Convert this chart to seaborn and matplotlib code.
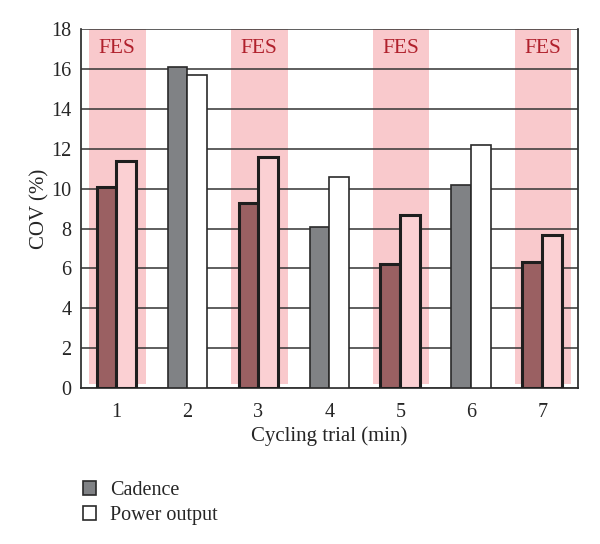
import pandas as pd
import matplotlib.pyplot as plt
import seaborn as sns

trials = ['1', '2', '3', '4', '5', '6', '7']
cadence = [10.1, 16.1, 9.3, 8.1, 6.2, 10.2, 6.3]
power = [11.4, 15.7, 11.6, 10.6, 8.7, 12.2, 7.7]
fes_trials = ['1', '3', '5', '7']

df = pd.DataFrame({
    'trial': trials * 2,
    'serie': ['Cadence'] * 7 + ['Power output'] * 7,
    'cov': cadence + power,
})

sns.set_style('white')
plt.rcParams['font.family'] = ['Liberation Serif', 'DejaVu Serif']

fig = plt.figure(figsize=(6, 5.44), dpi=100)
ax = fig.add_axes([0.135, 0.287, 0.828, 0.659])

# bandas FES atras de tudo
for t in fes_trials:
    i = trials.index(t)
    ax.axvspan(i - 0.39, i + 0.41, ymin=0.2 / 18, ymax=1, color='#f9c9cc', lw=0, zorder=0)
    ax.text(i + 0.01, 17.05, 'FES', ha='center', va='center', color='#b0202c', fontsize=15.5, zorder=1)

ax.yaxis.grid(True, color='#333333', lw=1.1, zorder=1)
ax.set_axisbelow(False)

sns.barplot(data=df, x='trial', y='cov', hue='serie', order=trials,
            hue_order=['Cadence', 'Power output'],
            palette=['#808285', '#ffffff'], width=0.56, gap=0,
            edgecolor='#2a2a2a', linewidth=1.2, saturation=1, ax=ax, zorder=3)

for k, cont in enumerate(ax.containers):
    for i, bar in enumerate(cont):
        bar.set_zorder(3)
        if trials[i] in fes_trials:
            bar.set_facecolor('#9a6062' if k == 0 else '#fbd0d3')
            bar.set_linewidth(2.2)
            bar.set_edgecolor('#1e1e1e')

ax.set_ylim(0, 18)
ax.set_xlim(-0.5, 6.5)
ax.set_yticks(range(0, 19, 2))
ax.set_xticks(range(7))
ax.set_xticks([x - 0.5 for x in range(8)], minor=True)
ax.tick_params(axis='x', which='major', length=0, labelsize=14.5, pad=11)
ax.tick_params(axis='x', which='minor', length=5, width=1.1, direction='out', color='#222222')
ax.tick_params(axis='y', length=5, width=1.1, direction='out', color='#222222', labelsize=14.5, pad=2)

for s in ['left', 'right', 'bottom']:
    ax.spines[s].set_color('#222222')
    ax.spines[s].set_linewidth(1.2)
ax.spines['top'].set_visible(False)

ax.set_xlabel('Cycling trial (min)', fontsize=15, labelpad=3)
ax.set_ylabel('COV (%)', fontsize=15, labelpad=1)

handles, labels = ax.get_legend_handles_labels()
ax.get_legend().remove()
for h in handles:
    h.set_linewidth(1.2)
fig.legend(handles, labels, loc='lower left', bbox_to_anchor=(0.138, 0.035),
           frameon=False, fontsize=14.5, handlelength=0.65, handleheight=0.65,
           handletextpad=0.7, labelspacing=0.3, borderpad=0, borderaxespad=0)

plt.savefig('out.png', dpi=100)
